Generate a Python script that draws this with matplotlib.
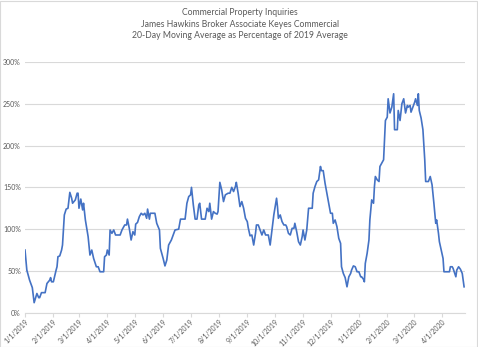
import pandas as pd
import matplotlib
matplotlib.use("Agg")
from matplotlib import pyplot as plt
import matplotlib.dates as mdates
from matplotlib.ticker import FuncFormatter, MultipleLocator
from matplotlib.patches import Rectangle

# days since 1/1/2019 and 20-day moving average (% of 2019 average)
days = [0, 2, 5, 8, 9, 10, 13, 15, 16, 18, 22, 24, 27, 28, 29, 31, 34, 35, 36, 38,
        40, 41, 43, 45, 47, 49, 51, 52, 55, 57, 58, 59, 61, 63, 64, 66, 69, 71, 73, 75,
        78, 80, 82, 86, 87, 89, 90, 92, 93, 95, 97, 99, 104, 106, 109, 111, 112, 114, 116, 118,
        120, 121, 123, 125, 127, 129, 131, 133, 134, 136, 137, 142, 144, 147, 148, 151, 153, 155, 157, 160,
        162, 164, 168, 170, 175, 177, 179, 181, 182, 184, 186, 188, 190, 191, 193, 197, 199, 201, 202, 204,
        206, 208, 210, 211, 213, 215, 217, 219, 222, 224, 226, 228, 230, 231, 233, 235, 237, 239, 241, 243,
        244, 246, 248, 250, 252, 253, 255, 257, 259, 261, 263, 266, 268, 270, 272, 275, 276, 277, 279, 281,
        283, 285, 286, 288, 290, 292, 294, 295, 297, 299, 301, 303, 304, 306, 308, 310, 314, 315, 317, 319,
        321, 323, 324, 326, 328, 330, 332, 334, 336, 337, 339, 341, 343, 345, 346, 348, 350, 352, 354, 356,
        357, 359, 361, 363, 365, 367, 368, 370, 371, 372, 374, 376, 377, 379, 381, 382, 383, 385, 387, 388,
        392, 394, 396, 397, 399, 401, 403, 404, 407, 408, 410, 412, 414, 416, 418, 419, 421, 422, 424, 426,
        427, 429, 430, 431, 433, 435, 437, 438, 441, 443, 445, 447, 449, 450, 452, 453, 455, 457, 458, 461,
        464, 465, 467, 468, 471, 472, 474, 476, 478, 480]
pct = [75, 51, 39, 30, 21, 12, 23, 18, 18, 24, 24, 35, 39, 42, 37, 37, 51, 55, 67, 68,
       75, 81, 117, 124, 125, 144, 137, 131, 135, 143, 143, 125, 136, 123, 131, 111, 91, 69, 75, 65,
       55, 55, 49, 49, 67, 69, 75, 69, 99, 95, 99, 93, 93, 99, 105, 105, 112, 101, 87, 97,
       93, 106, 108, 115, 119, 117, 119, 113, 124, 112, 119, 119, 107, 99, 77, 65, 56, 63, 81, 87,
       93, 99, 100, 112, 112, 131, 139, 141, 150, 129, 112, 112, 129, 131, 112, 112, 125, 121, 131, 112,
       121, 119, 118, 121, 156, 147, 133, 141, 143, 143, 150, 145, 151, 156, 143, 127, 133, 125, 113, 109,
       102, 92, 93, 81, 95, 105, 105, 99, 93, 99, 93, 93, 81, 99, 117, 137, 127, 113, 117, 109,
       105, 105, 103, 95, 93, 101, 101, 107, 97, 85, 81, 91, 99, 87, 99, 125, 125, 143, 151, 157,
       159, 175, 170, 170, 155, 143, 131, 119, 119, 107, 111, 103, 89, 83, 55, 47, 42, 31, 43, 47,
       51, 56, 55, 49, 49, 43, 43, 40, 37, 59, 71, 87, 111, 135, 131, 151, 163, 159, 157, 175,
       183, 230, 234, 256, 239, 246, 262, 219, 219, 242, 230, 250, 256, 239, 248, 246, 248, 240, 246, 252,
       256, 248, 262, 242, 233, 219, 183, 157, 157, 163, 153, 131, 107, 111, 95, 85, 75, 65, 49, 49,
       49, 55, 55, 53, 43, 51, 55, 52, 47, 31]

title_lines = ["Commercial Property Inquiries",
               "James Hawkins Broker Associate Keyes Commercial",
               "20-Day Moving Average as Percentage of 2019 Average"]

start = pd.Timestamp("2019-01-01")
dates = [start + pd.Timedelta(days=d) for d in days]

plt.rcParams['font.family'] = ['Lato', 'DejaVu Sans']
grey = '#595959'

fig = plt.figure(figsize=(4.78, 3.47), dpi=100)
fig.patches.append(Rectangle((0.001, 0.001), 0.997, 0.997, transform=fig.transFigure,
                             fill=False, edgecolor='#d9d9d9', linewidth=0.8))

ax = fig.add_axes([0.0523, 0.0988, 0.9205, 0.7225])
ax.plot(dates, pct, color='#4472C4', linewidth=1.2)

ax.set_ylim(0, 300)
ax.set_xlim(start, start + pd.Timedelta(days=481))
ax.yaxis.set_major_locator(MultipleLocator(50))
ax.yaxis.set_major_formatter(FuncFormatter(lambda v, p: f"{int(v)}%"))
ax.xaxis.set_major_locator(mdates.MonthLocator())
ax.xaxis.set_major_formatter(FuncFormatter(
    lambda v, p: (lambda d: f"{d.month}/{d.day}/{d.year}")(mdates.num2date(v))))

ax.grid(axis='y', color='#d9d9d9', linewidth=0.8)
ax.set_axisbelow(True)
for s in ['top', 'right', 'left']:
    ax.spines[s].set_visible(False)
ax.spines['bottom'].set_color('#d9d9d9')
ax.spines['bottom'].set_linewidth(0.8)

ax.tick_params(axis='y', length=0, labelsize=5, labelcolor=grey, pad=3)
ax.tick_params(axis='x', length=3, color='#d9d9d9', labelsize=5, labelcolor=grey, pad=1)
for lbl in ax.get_xticklabels():
    lbl.set_rotation(45)
    lbl.set_ha('right')
    lbl.set_rotation_mode('anchor')

for i, t in enumerate(title_lines):
    fig.text(0.502, 0.9646 - i * 0.0338, t, ha='center', va='center',
             fontsize=6.2, color=grey)

fig.savefig("out.png", dpi=100)
